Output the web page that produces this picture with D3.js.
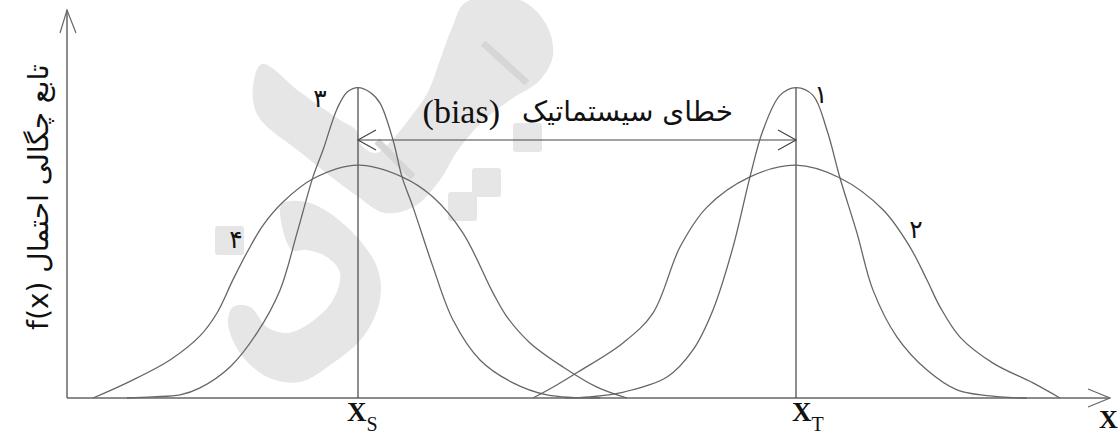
<!DOCTYPE html>
<html>
<head>
<meta charset="utf-8">
<script src="https://cdn.jsdelivr.net/npm/d3@7"></script>
<style>
  html, body { margin: 0; padding: 0; background: #fff; }
  svg { display: block; }
  .serif { font-family: "Liberation Serif", "Times New Roman", "DejaVu Serif", serif; }
  .fa { font-family: "DejaVu Sans", sans-serif; }
</style>
</head>
<body>
<svg id="chart" width="1120" height="436"></svg>
<script>
// x is measured along the axis (1 unit = 10 px), f is the density (0..1)
const xMax = 104.3;
const xS = 29.1;          // systematic centre
const xT = 72.9;          // true value
const biasLevel = 0.665;  // height of the bias arrow

// curve 3 — narrow, centred on X_S
const curve3 = [
  [6.0, 0], [8.6, 0.003], [11.3, 0.008], [13.3, 0.026], [16.3, 0.080],
  [19.0, 0.168], [21.3, 0.278], [23.0, 0.425], [24.6, 0.570], [25.6, 0.639],
  [27.0, 0.745], [28.0, 0.788], [29.1, 0.800], [30.3, 0.788], [31.3, 0.760],
  [32.6, 0.665], [33.5, 0.570], [34.6, 0.492], [36.6, 0.338], [38.6, 0.201],
  [41.3, 0.098], [44.6, 0.039], [48.0, 0.008], [53.3, 0]
];
// curve 4 — wide, centred on X_S
const curve4 = [
  [2.6, 0], [6.3, 0.043], [10.3, 0.098], [13.3, 0.160], [15.0, 0.219],
  [16.6, 0.305], [18.0, 0.375], [19.6, 0.445], [21.6, 0.505], [24.6, 0.565],
  [29.1, 0.600], [33.5, 0.570], [36.6, 0.518], [39.6, 0.425], [42.6, 0.271],
  [44.0, 0.209], [46.3, 0.142], [49.6, 0.080], [53.0, 0.028], [56.0, 0]
];
// curve 1 — narrow, centred on X_T
const curve1 = [
  [49.8, 0], [52.3, 0.003], [55.3, 0.013], [60.0, 0.054], [62.6, 0.124],
  [64.6, 0.227], [66.6, 0.389], [68.3, 0.570], [69.6, 0.690], [71.3, 0.780],
  [72.9, 0.800], [74.6, 0.780], [76.0, 0.690], [77.3, 0.567], [79.0, 0.425],
  [80.6, 0.278], [83.0, 0.157], [86.0, 0.072], [89.0, 0.021], [93.3, 0.003],
  [96.0, 0]
];
// curve 2 — wide, centred on X_T
const curve2 = [
  [46.6, 0], [48.8, 0.031], [51.1, 0.067], [55.6, 0.142], [58.6, 0.219],
  [61.3, 0.389], [64.0, 0.492], [68.3, 0.570], [72.9, 0.600], [77.3, 0.567],
  [81.6, 0.485], [84.3, 0.389], [86.0, 0.304], [87.3, 0.235], [89.3, 0.157],
  [92.6, 0.090], [96.6, 0.039], [99.3, 0]
];

const curveLabels = [
  { text: "۳", x: 25.3, f: 0.776 },
  { text: "۴", x: 16.9, f: 0.412 },
  { text: "۱", x: 75.4, f: 0.786 },
  { text: "۲", x: 84.9, f: 0.438 }
];

const yTitle = "f(x) تابع چگالی احتمال";
const biasLatin = "(bias)";
const biasPersian = "خطای سیستماتیک";

const svg = d3.select("#chart");
const x = d3.scaleLinear().domain([0, xMax]).range([67, 1110]);
const y = d3.scaleLinear().domain([0, 1]).range([398, 10]);

// light logo stamp behind the drawing
const stamp = svg.append("g").attr("fill", "#e6e6e6");
const closed = d3.line().curve(d3.curveCatmullRomClosed.alpha(0.5));
stamp.append("path").attr("d", closed([
  [262, 64], [300, 92], [340, 120], [356, 130], [362, 146], [376, 153],
  [392, 140], [410, 118], [428, 92], [440, 60], [452, 28], [466, 2],
  [520, 0], [546, 24], [553, 55], [540, 80], [510, 100], [482, 122],
  [458, 150], [440, 180], [415, 206], [385, 213], [357, 196], [300, 152],
  [258, 116], [253, 86]
]));
stamp.append("path").attr("d", closed([
  [283, 203], [310, 203], [347, 227], [377, 267], [380, 300], [363, 337],
  [333, 363], [300, 382], [267, 377], [240, 353], [228, 323], [233, 307],
  [250, 307], [267, 327], [287, 333], [310, 323], [333, 300], [340, 273],
  [327, 257], [307, 250], [292, 250], [280, 212]
]));
[[513, 123], [472, 168], [448, 192], [215, 226]].forEach(([sx, sy]) => {
  stamp.append("rect").attr("x", sx).attr("y", sy)
    .attr("width", 29).attr("height", 29).attr("rx", 3);
});
stamp.append("g").attr("stroke", "#d6d6d6").attr("stroke-width", 7)
  .selectAll("line").data([[483, 43, 527, 83], [377, 141, 413, 177]])
  .join("line")
  .attr("x1", d => d[0]).attr("y1", d => d[1])
  .attr("x2", d => d[2]).attr("y2", d => d[3]);

// axes with open arrow heads
const axisColor = "#666";
const axes = svg.append("g").attr("stroke", axisColor).attr("stroke-width", 1.5)
  .attr("fill", "none");
axes.append("line").attr("x1", x(0)).attr("y1", y(0)).attr("x2", x(0)).attr("y2", y(1));
axes.append("line").attr("x1", x(0)).attr("y1", y(0)).attr("x2", x(xMax)).attr("y2", y(0));
axes.append("path").attr("stroke-width", 1.2)
  .attr("d", `M${x(0) - 7},${y(1) + 23}L${x(0)},${y(1)}L${x(0) + 9},${y(1) + 23}`);
axes.append("path").attr("stroke-width", 1.2)
  .attr("d", `M${x(xMax) - 22},${y(0) - 9}L${x(xMax)},${y(0)}L${x(xMax) - 22},${y(0) + 9}`);

// vertical markers at X_S and X_T
const marks = svg.append("g").attr("stroke", "#444").attr("stroke-width", 1.2)
  .attr("fill", "none");
[xS, xT].forEach(v => {
  marks.append("line").attr("x1", x(v)).attr("x2", x(v))
    .attr("y1", y(0.8)).attr("y2", y(0));
});

// bias arrow
const by = y(biasLevel);
marks.append("line").attr("x1", x(xS)).attr("x2", x(xT)).attr("y1", by).attr("y2", by);
marks.append("path")
  .attr("d", `M${x(xS) + 18},${by - 10}L${x(xS)},${by}L${x(xS) + 18},${by + 10}`);
marks.append("path")
  .attr("d", `M${x(xT) - 18},${by - 10}L${x(xT)},${by}L${x(xT) - 18},${by + 10}`);

// density curves
const line = d3.line().x(d => x(d[0])).y(d => y(d[1]))
  .curve(d3.curveCatmullRom.alpha(0.5));
svg.append("g").attr("fill", "none").attr("stroke", "#666").attr("stroke-width", 1.3)
  .selectAll("path").data([curve3, curve4, curve1, curve2])
  .join("path").attr("d", line);

// curve numbers
svg.append("g").attr("class", "fa").attr("font-size", 25)
  .attr("fill", "#111").attr("text-anchor", "middle")
  .selectAll("text").data(curveLabels).join("text")
  .attr("x", d => x(d.x)).attr("y", d => y(d.f) + 10)
  .text(d => d.text);

// bias caption
svg.append("text").attr("class", "serif").attr("x", 500).attr("y", 123)
  .attr("font-size", 34).attr("text-anchor", "end").attr("fill", "#111")
  .text(biasLatin);
svg.append("text").attr("class", "fa").attr("x", 733).attr("y", 121)
  .attr("font-size", 28).attr("text-anchor", "end").attr("fill", "#111")
  .text(biasPersian);

// X_S, X_T and X labels
function subLabel(px, main, sub) {
  const t = svg.append("text").attr("class", "serif").attr("x", px).attr("y", 421)
    .attr("fill", "#111").attr("font-weight", "bold");
  t.append("tspan").attr("font-size", 27).text(main);
  t.append("tspan").attr("font-size", 20).attr("font-weight", "normal")
    .attr("dy", 10).text(sub);
}
subLabel(x(xS) - 11, "X", "S");
subLabel(x(xT) - 4, "X", "T");
svg.append("text").attr("class", "serif").attr("x", 1099).attr("y", 428)
  .attr("font-size", 26).attr("font-weight", "bold")
  .attr("fill", "#111").text("X");

// y-axis title
svg.append("text").attr("class", "fa")
  .attr("transform", "translate(38,197) rotate(-90)")
  .attr("font-size", 28)
  .attr("text-anchor", "middle").attr("dominant-baseline", "central")
  .attr("fill", "#111").text(yTitle);
</script>
</body>
</html>
